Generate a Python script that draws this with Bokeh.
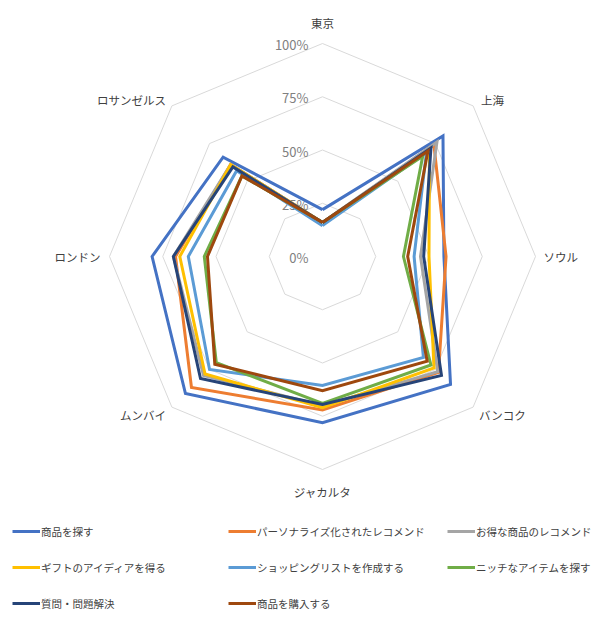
import numpy as np
from bokeh.plotting import figure
from bokeh.models import Range1d, Legend, LegendItem, ColumnDataSource
from bokeh.core.properties import value
from bokeh.embed import file_html
from bokeh.resources import INLINE

# ---------------- data ----------------
categories = ["東京", "上海", "ソウル", "バンコク", "ジャカルタ", "ムンバイ", "ロンドン", "ロサンゼルス"]

series_names = [
    "商品を探す",
    "パーソナライズ化されたレコメンド",
    "お得な商品のレコメンド",
    "ギフトのアイディアを得る",
    "ショッピングリストを作成する",
    "ニッチなアイテムを探す",
    "質問・問題解決",
    "商品を購入する",
]

find_products = [22, 80, 57, 85, 78, 91, 80, 66]
personalized = [16, 74, 58, 77, 72, 87, 69, 61]
deals = [16, 76, 46, 76.5, 70, 79, 70, 61]
gift_ideas = [16, 71, 50, 74, 71, 78, 67, 61]
shopping_list = [14.5, 69, 43, 67, 60.5, 75, 63, 57]
niche_items = [16, 66.5, 38, 72, 69, 70.5, 55.5, 53.5]
questions = [16, 72, 47.5, 79, 69.5, 81, 70, 59.5]
purchase = [16, 70, 40, 69.5, 63, 71.5, 54, 53.5]

series_values = [find_products, personalized, deals, gift_ideas,
                 shopping_list, niche_items, questions, purchase]

colors = ["#4472C4", "#ED7D31", "#A5A5A5", "#FFC000",
          "#5B9BD5", "#70AD47", "#264478", "#9E480E"]

tick_levels = [0, 25, 50, 75, 100]
tick_labels = ["0%", "25%", "50%", "75%", "100%"]

# ---------------- geometry ----------------
W, H = 592, 630
SCALE = 213.0           # px per 100%
CX, CY = 322.0, 256.0   # center in frame px (from top-left)
FONT = "Noto Sans CJK JP"

n = len(categories)
angles = np.deg2rad(90 - 45 * np.arange(n))


def polar(vals):
    r = np.asarray(vals, dtype=float) / 100.0
    return list(r * np.cos(angles)), list(r * np.sin(angles))


p = figure(width=W, height=H, output_backend="svg", toolbar_location=None,
           x_range=Range1d(-CX / SCALE, (W - CX) / SCALE),
           y_range=Range1d(-(H - CY) / SCALE, CY / SCALE),
           min_border=0, outline_line_color=None)
p.axis.visible = False
p.xgrid.visible = False
p.ygrid.visible = False
p.background_fill_color = "white"
p.border_fill_color = "white"

# grid rings
for lv in tick_levels[1:]:
    gx, gy = polar([lv] * n)
    p.line(gx + [gx[0]], gy + [gy[0]], line_color="#D9D9D9", line_width=1)

# tick labels
p.text(x=[0] * len(tick_levels), y=[lv / 100.0 for lv in tick_levels], text=tick_labels,
       text_font=value(FONT), text_font_size="13px", text_color="#808080",
       text_align="right", text_baseline="middle", x_offset=-14, y_offset=1)

# category labels
lx, ly = polar([100] * n)
aligns = ["center", "left", "left", "left", "center", "right", "right", "right"]
xoffs = [0, 8, 8, 6, 0, -6, -9, -6]
yoffs = [-21, -6, 0, 8, 22, 8, 0, -6]
lab_src = ColumnDataSource(dict(x=lx, y=ly, text=categories, align=aligns, xo=xoffs, yo=yoffs))
p.text(x="x", y="y", text="text", source=lab_src, text_align="align",
       x_offset="xo", y_offset="yo", text_baseline="middle",
       text_font=value(FONT), text_font_size="11.5px", text_color="#404040")

# series
renderers = []
for name, vals, col in zip(series_names, series_values, colors):
    sx, sy = polar(vals)
    r = p.line(sx + [sx[0]], sy + [sy[0]], line_color=col, line_width=3,
               line_join="miter")
    renderers.append(r)

# legends (three columns)
col_members = [[0, 3, 6], [1, 4, 7], [2, 5]]
col_locs = [(12, 17), (228, 17), (447, 53)]
for members, loc in zip(col_members, col_locs):
    leg = Legend(items=[LegendItem(label=series_names[i], renderers=[renderers[i]]) for i in members],
                 location=loc, orientation="vertical",
                 glyph_width=28, glyph_height=20, label_height=20, label_standoff=1,
                 spacing=16, padding=0, margin=0,
                 border_line_color=None, background_fill_alpha=0,
                 label_text_font=FONT, label_text_font_size="10.5px",
                 label_text_color="#404040")
    p.add_layout(leg)

open("out.html", "w").write(file_html(p, INLINE))
